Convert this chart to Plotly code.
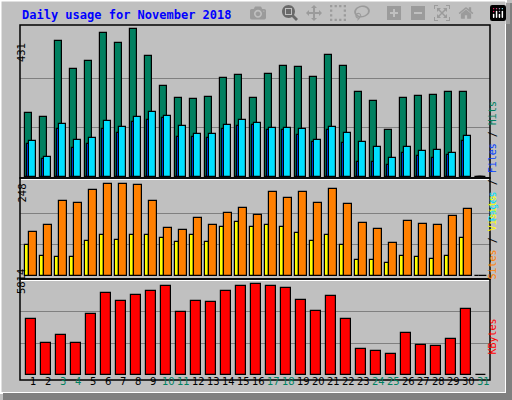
import plotly.graph_objects as go

days = list(range(1, 32))
hits = [185,174,396,314,337,419,390,431,352,264,229,226,232,288,296,229,299,323,320,291,355,323,247,220,136,229,235,238,247,247,0]
files = [104,57,153,106,112,162,144,174,188,177,147,124,124,150,165,156,142,142,139,106,144,127,101,86,54,86,74,77,68,118,0]
pages = [95,51,139,83,95,139,127,159,165,171,115,115,112,139,147,150,136,136,121,101,136,98,42,42,33,68,60,54,63,104,0]
sites = [116,134,197,192,226,242,242,239,197,126,121,153,134,166,179,160,221,205,221,192,229,189,139,124,87,145,137,134,158,176,0]
visits = [82,53,50,50,92,108,95,108,108,100,89,108,89,129,142,129,134,129,113,92,108,82,42,42,34,53,50,45,53,100,0]
kbytes = [3427,1958,2448,1958,3733,5018,4529,4896,5141,5447,3856,4529,4468,5141,5447,5569,5447,5324,4590,3917,4835,3427,1591,1469,1285,2570,1836,1775,2203,4039,0]
weekend = {3,4,10,11,17,18,24,25,31}
max_hits, max_sites, max_kb = 431, 248, 5814

W, H = 512, 400
L, R, T, B = 20, 490, 25, 380
def px(x): return (x - L) / (R - L)
def py(y): return (B - y) / (B - T)

fig = go.Figure()
line = dict(color="black", width=1.2)
def bars(vals, off, w, color, yaxis):
    fig.add_trace(go.Bar(x=[d + off for d in days], y=vals, width=w, marker=dict(color=color, line=line),
                         xaxis="x", yaxis=yaxis, showlegend=False, hoverinfo="skip"))

bars(hits, -0.13, 0.47, "#008060", "y")
bars(pages, 0.0, 0.47, "#0040ff", "y")
bars(files, 0.13, 0.47, "#00e0ff", "y")
bars(visits, -0.23, 0.27, "#ffff00", "y2")
bars(sites, 0.15, 0.49, "#ff8000", "y2")
bars(kbytes, 0.03, 0.67, "#ff0000", "y3")

grid = dict(showgrid=True, gridcolor="#808080", gridwidth=1.2, showticklabels=False, zeroline=False, ticks="")
fig.update_layout(
    width=W, height=H, margin=dict(l=L, r=W - R, t=T, b=H - B),
    paper_bgcolor="#c0c0c0", plot_bgcolor="#c0c0c0", barmode="overlay", bargap=0,
    xaxis=dict(range=[0.28, 31.61], showticklabels=False, showgrid=False, zeroline=False, ticks=""),
    yaxis=dict(domain=[py(178), 1], range=[-3.8, 443.6], tickvals=[max_hits/3, 2*max_hits/3], **grid),
    yaxis2=dict(domain=[py(279), py(178)], range=[-7.1, 258.5], tickvals=[max_sites/3, 2*max_sites/3], **grid),
    yaxis3=dict(domain=[0, py(279)], range=[-288, 5894], tickvals=[max_kb/3, 2*max_kb/3], **grid),
)

shapes = []
for y0, y1 in [(25, 178), (178, 279), (279, 380)]:
    shapes.append(dict(type="rect", xref="paper", yref="paper", x0=0, x1=1, y0=py(y1), y1=py(y0),
                       line=dict(color="black", width=1.5)))
    if y0 > 25:
        shapes.append(dict(type="line", xref="paper", yref="paper", x0=px(21), x1=px(489), y0=py(y0+1.5), y1=py(y0+1.5),
                           line=dict(color="white", width=1)))
shapes += [
    dict(type="rect", xref="paper", yref="paper", x0=px(0.5), x1=px(506), y0=py(393), y1=py(0.5), line=dict(color="white", width=2)),
    dict(type="rect", xref="paper", yref="paper", x0=px(506), x1=px(512), y0=py(400), y1=py(3), fillcolor="#808080", line=dict(width=0)),
    dict(type="rect", xref="paper", yref="paper", x0=px(3), x1=px(512), y0=py(400), y1=py(393), fillcolor="#808080", line=dict(width=0)),
]
fig.update_layout(shapes=shapes)

mono = "DejaVu Sans Mono"
ann = [dict(text="<b>Daily usage for November 2018</b>", x=px(20), y=py(15), xref="paper", yref="paper",
            xanchor="left", yanchor="middle", showarrow=False, font=dict(family=mono, size=12, color="#0000ff"))]
for txt, y in [(str(max_hits), 41), (str(max_sites), 193), (str(max_kb), 296)]:
    ann.append(dict(text=txt, x=px(14), y=py(y), xref="paper", yref="paper", textangle=-90, showarrow=False,
                    font=dict(family="DejaVu Sans", size=10, color="black")))
for d in days:
    ann.append(dict(text=str(d), x=d + 0.17, y=py(389), xref="x", yref="paper", showarrow=False,
                    font=dict(family="DejaVu Sans", size=10, color="#008060" if d in weekend else "black")))
ann.append(dict(text="<span style='color:#00e0ff'>Pages</span> / <span style='color:#0040ff'>Files</span> / <span style='color:#008060'>Hits</span>",
                x=px(499), y=py(100), xref="paper", yref="paper", textangle=-90, showarrow=False,
                font=dict(family=mono, size=10, color="black")))
ann.append(dict(text="<span style='color:#ff8000'>Sites</span> / <span style='color:#ffff00'>Visits</span>",
                x=px(499), y=py(238), xref="paper", yref="paper", textangle=-90, showarrow=False,
                font=dict(family=mono, size=10, color="black")))
ann.append(dict(text="KBytes", x=px(499), y=py(357), xref="paper", yref="paper", textangle=-90, showarrow=False,
                font=dict(family=mono, size=10, color="#ff0000")))
fig.update_layout(annotations=ann)

fig.write_html("out.html", post_script="document.body.style.margin='0';document.body.style.padding='0';")
